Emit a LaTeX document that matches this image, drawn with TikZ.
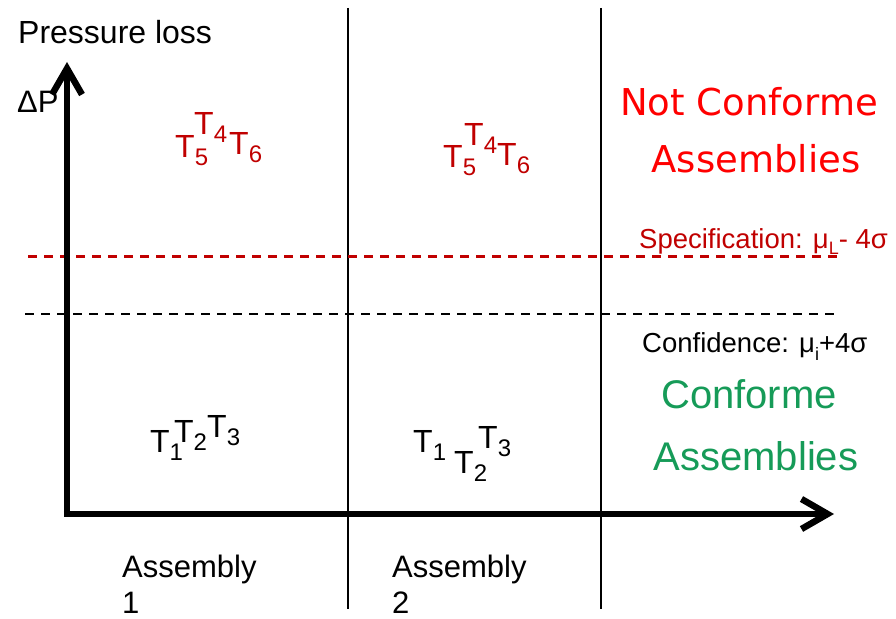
\documentclass[tikz,border=0pt]{standalone}
\usepackage{fontspec}
\setmainfont{Liberation Sans}
\newfontfamily\titlefont{DejaVu Sans}
\usetikzlibrary{arrows.meta}
\definecolor{darkred}{RGB}{192,0,0}
\definecolor{brightred}{RGB}{255,0,0}
\definecolor{okgreen}{RGB}{22,155,88}
\newcommand{\fs}[1]{\fontsize{#1}{#1}\selectfont}
\newcommand{\Ts}[1]{T\raisebox{-8pt}{\fs{24}#1}}
\begin{document}
\begin{tikzpicture}[x=1pt,y=-1pt,
  txt/.style={inner sep=0pt,anchor=base west},
  tlab/.style={txt,font=\fs{32}},
  axis/.style={line width=6.5pt,-{Straight Barb[length=26pt,width=30pt]}},
  divider/.style={line width=1.8pt},
  dashline/.style={line width=2.4pt,dash pattern=on 9pt off 7pt}]
\useasboundingbox (0,0) rectangle (896,618);
% coordinates
\coordinate (o) at (67,514);
\coordinate (ytip) at (67,62);
\coordinate (xtip) at (834,514);
\coordinate (v1t) at (348,8);
\coordinate (v1b) at (348,609);
\coordinate (v2t) at (601,8);
\coordinate (v2b) at (601,609);
\coordinate (rs) at (28,256.5);
\coordinate (re) at (837,256.5);
\coordinate (bs) at (25,314);
\coordinate (be) at (836,314);
% lines
\draw[divider] (v1t) -- (v1b);
\draw[divider] (v2t) -- (v2b);
\draw[dashline,darkred] (rs) -- (re);
\draw[dashline,black] (bs) -- (be);
\draw[axis] ([yshift=3.25pt]o) -- (ytip);
\draw[axis] ([xshift=-3.25pt]o) -- (xtip);
% axis labels
\node[txt,font=\fs{32}] (pl) at (18,44) {Pressure loss};
\node[txt,font=\fs{31}] (dp) at (17,112) {ΔP};
% red T groups
\node[tlab,darkred] (a5) at (175,157) {\Ts{5}};
\node[tlab,darkred] (a4) at (194,134) {\Ts{4}};
\node[tlab,darkred] (a6) at (229,154) {\Ts{6}};
\node[tlab,darkred] (b5) at (443,167) {\Ts{5}};
\node[tlab,darkred] (b4) at (464,145) {\Ts{4}};
\node[tlab,darkred] (b6) at (497,165) {\Ts{6}};
% black T groups
\node[tlab] (c1) at (150,452) {\Ts{1}};
\node[tlab] (c2) at (174,442) {\Ts{2}};
\node[tlab] (c3) at (207,437) {\Ts{3}};
\node[tlab] (d1) at (413,452) {\Ts{1}};
\node[tlab] (d2) at (454,473) {\Ts{2}};
\node[tlab] (d3) at (478,448) {\Ts{3}};
% right side labels
\node[inner sep=0pt,anchor=base,font=\titlefont\fs{37},text=brightred] (nc1) at (749,115) {Not Conforme};
\node[inner sep=0pt,anchor=base,font=\titlefont\fs{37},text=brightred] (nc2) at (756,172) {Assemblies};
\node[txt,font=\fs{27.5},text=darkred] (spec) at (639,248) {Specification: μ\raisebox{-6pt}{\fs{18}L}- 4σ};
\node[txt,font=\fs{27.5}] (conf) at (642,352) {Confidence: μ\raisebox{-8pt}{\fs{18}i}+4σ};
\node[inner sep=0pt,anchor=base,font=\fs{40},text=okgreen] (c1t) at (749,408) {Conforme};
\node[inner sep=0pt,anchor=base,font=\fs{40},text=okgreen] (c2t) at (756,470) {Assemblies};
% assembly labels
\node[txt,font=\fs{31}] (as1) at (122,577) {Assembly};
\node[txt,font=\fs{31}] (as1n) at (122,613) {1};
\node[txt,font=\fs{31}] (as2) at (392,577) {Assembly};
\node[txt,font=\fs{31}] (as2n) at (392,613) {2};
\end{tikzpicture}
\end{document}
